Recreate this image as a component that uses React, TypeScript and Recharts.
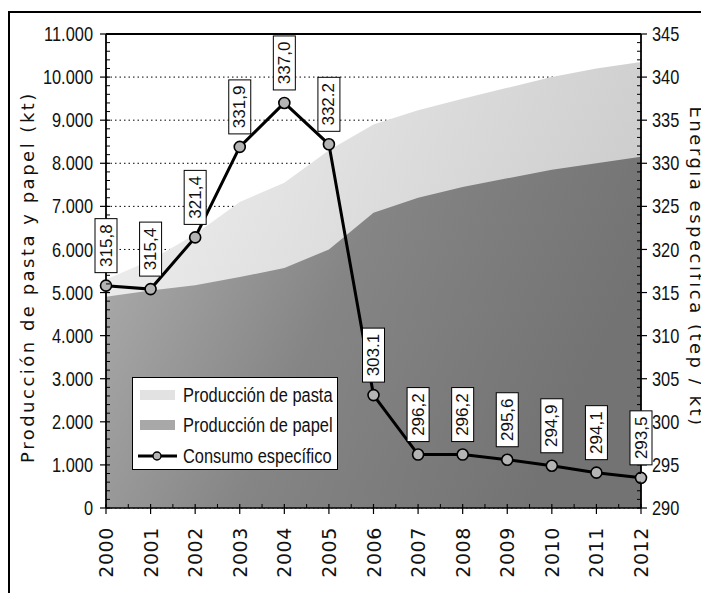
import React from "react";
import {
  ComposedChart,
  Area,
  Line,
  XAxis,
  YAxis,
  CartesianGrid,
  LabelList,
  Legend,
  ReferenceLine,
} from "recharts";

const years = [2000, 2001, 2002, 2003, 2004, 2005, 2006, 2007, 2008, 2009, 2010, 2011, 2012];
const pasta = [5300, 5750, 6350, 7100, 7550, 8300, 8900, 9230, 9500, 9750, 10000, 10200, 10350];
const papel = [4900, 5050, 5170, 5360, 5570, 6000, 6850, 7200, 7450, 7650, 7850, 8000, 8150];
const consumo = [315.8, 315.4, 321.4, 331.9, 337.0, 332.2, 303.1, 296.2, 296.2, 295.6, 294.9, 294.1, 293.5];
const consumoLabels = ["315,8", "315,4", "321,4", "331,9", "337,0", "332.2", "303.1", "296,2", "296,2", "295,6", "294,9", "294,1", "293,5"];

const leftTicks = [0, 1000, 2000, 3000, 4000, 5000, 6000, 7000, 8000, 9000, 10000, 11000];
const leftTickLabels = ["0", "1.000", "2.000", "3.000", "4.000", "5.000", "6.000", "7.000", "8.000", "9.000", "10.000", "11.000"];
const rightTicks = [290, 295, 300, 305, 310, 315, 320, 325, 330, 335, 340, 345];
const leftAllTicks = Array.from({ length: 56 }, (_, i) => i * 200);
const rightAllTicks = Array.from({ length: 56 }, (_, i) => 290 + i);
const xAllTicks = Array.from({ length: 25 }, (_, i) => 2000 + i * 0.5);

const seriesNames = ["Producción de pasta", "Producción de papel", "Consumo específico"];
const leftTitle = "Producción de pasta y papel (kt)";
const rightTitle = "Energía específica (tep / kt)";

const data = years.map((year, i) => ({
  year,
  pasta: pasta[i],
  papel: papel[i],
  consumo: consumo[i],
  label: consumoLabels[i],
}));

const SANS = '"Liberation Sans", Arial, sans-serif';
const WIDE = '"DejaVu Sans", Verdana, sans-serif';
const SQUEEZE = 0.82;

const LeftTick = (props: any) => {
  const { x, y, payload } = props;
  const idx = leftTicks.indexOf(payload.value);
  if (idx < 0) {
    return <line x1={x} x2={x + 4} y1={y} y2={y} stroke="#000" strokeWidth={1} />;
  }
  return (
    <g>
      <line x1={x - 6} x2={x + 4} y1={y} y2={y} stroke="#000" strokeWidth={1.2} />
      <g transform={`translate(${x - 13},${y}) scale(${SQUEEZE},1)`}>
        <text x={0} y={0} textAnchor="end" dominantBaseline="central" fontFamily={SANS} fontSize={20} fill="#111">
          {leftTickLabels[idx]}
        </text>
      </g>
    </g>
  );
};

const RightTick = (props: any) => {
  const { x, y, payload } = props;
  const isMajor = rightTicks.indexOf(payload.value) >= 0;
  if (!isMajor) {
    return <line x1={x - 4} x2={x} y1={y} y2={y} stroke="#000" strokeWidth={1} />;
  }
  return (
    <g>
      <line x1={x - 4} x2={x + 6} y1={y} y2={y} stroke="#000" strokeWidth={1.2} />
      <g transform={`translate(${x + 11},${y}) scale(${SQUEEZE},1)`}>
        <text x={0} y={0} textAnchor="start" dominantBaseline="central" fontFamily={SANS} fontSize={20} fill="#111">
          {payload.value}
        </text>
      </g>
    </g>
  );
};

const XTick = (props: any) => {
  const { x, y, payload } = props;
  const isMajor = years.indexOf(payload.value) >= 0;
  if (!isMajor) {
    return <line x1={x} x2={x} y1={y - 4} y2={y} stroke="#000" strokeWidth={1} />;
  }
  return (
    <g>
      <line x1={x} x2={x} y1={y - 4} y2={y + 6} stroke="#000" strokeWidth={1.2} />
      <g transform={`translate(${x},${y})`}>
        <text
          transform="rotate(-90)"
          x={-19}
          y={0}
          textAnchor="end"
          dominantBaseline="central"
          fontFamily={WIDE}
          fontSize={19}
          letterSpacing={0.6}
          fill="#111"
        >
          {payload.value}
        </text>
      </g>
    </g>
  );
};

const PointDot = (props: any) => {
  const { cx, cy, index } = props;
  if (cx == null || cy == null) return <g key={index} />;
  return <circle key={index} cx={cx} cy={cy} r={5.5} fill="#b4b4b4" stroke="#000" strokeWidth={1.6} />;
};

const ValueLabel = (props: any) => {
  const x = props.x ?? props.viewBox?.x;
  const y = props.y ?? props.viewBox?.y;
  const value = props.value;
  const w = 22;
  const h = 54;
  const gap = 13;
  const top = y - gap - h;
  return (
    <g>
      <rect x={x - w / 2} y={top} width={w} height={h} fill="#fff" stroke="#000" strokeWidth={1} />
      <text
        transform={`translate(${x},${top + h / 2}) rotate(-90)`}
        textAnchor="middle"
        dominantBaseline="central"
        fontFamily={SANS}
        fontSize={17}
        fill="#111"
      >
        {value}
      </text>
    </g>
  );
};

const LegendContent = () => (
  <div
    style={{
      width: 206,
      height: 93,
      boxSizing: "border-box",
      border: "1.5px solid #000",
      background: "#fff",
      position: "relative",
      fontFamily: SANS,
      fontSize: 20,
      color: "#111",
    }}
  >
    {seriesNames.map((name, i) => (
      <div
        key={name}
        style={{ position: "absolute", left: 0, top: 1 + i * 30.5, height: 31, width: 206, display: "flex", alignItems: "center" }}
      >
        <svg width={44} height={14} style={{ marginLeft: 4, marginRight: 2, flex: "none" }}>
          {i === 0 && <rect x={3} y={2} width={35} height={10} fill="#e2e2e2" />}
          {i === 1 && <rect x={3} y={2} width={35} height={10} fill="#a8a8a8" />}
          {i === 2 && (
            <g>
              <line x1={1} y1={7} x2={40} y2={7} stroke="#000" strokeWidth={3} />
              <circle cx={20} cy={7} r={4} fill="#b4b4b4" stroke="#000" strokeWidth={1.4} />
            </g>
          )}
        </svg>
        <span
          style={{
            whiteSpace: "nowrap",
            lineHeight: "20px",
            display: "inline-block",
            transform: `scaleX(${SQUEEZE})`,
            transformOrigin: "left center",
          }}
        >
          {name}
        </span>
      </div>
    ))}
  </div>
);

const titleStyle = (cx: number, cy: number, deg: number): React.CSSProperties => ({
  position: "absolute",
  left: cx - 220,
  top: cy - 12,
  width: 440,
  height: 24,
  lineHeight: "24px",
  textAlign: "center",
  transform: `rotate(${deg}deg)`,
  fontFamily: WIDE,
  fontSize: 18,
  letterSpacing: 2.5,
  color: "#111",
  whiteSpace: "nowrap",
});

export default function App() {
  return (
    <div style={{ position: "relative", width: 701, height: 585 }}>
      <div
        style={{
          position: "absolute",
          left: -0.5,
          top: 3,
          width: 702,
          height: 585,
          borderTop: "2.5px solid #000",
          borderLeft: "2.5px solid #000",
          boxSizing: "border-box",
        }}
      />
      <ComposedChart width={701} height={585} data={data} margin={{ top: 26, right: 0, bottom: 0, left: 0 }}>
        <defs>
          <linearGradient id="gPasta" x1="0" y1="0" x2="1" y2="0.4">
            <stop offset="0" stopColor="#f2f2f2" />
            <stop offset="0.45" stopColor="#e0e0e0" />
            <stop offset="1" stopColor="#cbcbcb" />
          </linearGradient>
          <linearGradient id="gPapel" x1="0" y1="0" x2="1" y2="0.3">
            <stop offset="0" stopColor="#b0b0b0" />
            <stop offset="0.5" stopColor="#858585" />
            <stop offset="1" stopColor="#737373" />
          </linearGradient>
        </defs>
        <CartesianGrid
          xAxisId="main"
          yAxisId="zgrid"
          vertical={false}
          stroke="#000"
          strokeDasharray="1.5 3"
          strokeWidth={1}
        />
        <Area
          xAxisId="main"
          yAxisId="left"
          type="linear"
          dataKey="pasta"
          name={seriesNames[0]}
          stroke="none"
          fill="url(#gPasta)"
          fillOpacity={1}
          isAnimationActive={false}
        />
        <Area
          xAxisId="main"
          yAxisId="zgrid"
          type="linear"
          dataKey="papel"
          name={seriesNames[1]}
          stroke="none"
          fill="url(#gPapel)"
          fillOpacity={1}
          isAnimationActive={false}
        />
        <XAxis
          xAxisId="main"
          dataKey="year"
          type="number"
          domain={[2000, 2012]}
          ticks={xAllTicks}
          interval={0}
          height={85}
          tickSize={0}
          tickMargin={0}
          tick={<XTick />}
          tickLine={false}
          axisLine={{ stroke: "#000", strokeWidth: 1.5 }}
        />
        <YAxis
          yAxisId="left"
          type="number"
          domain={[0, 11000]}
          ticks={leftAllTicks}
          interval={0}
          width={98}
          tickSize={0}
          tickMargin={0}
          tick={<LeftTick />}
          tickLine={false}
          axisLine={{ stroke: "#000", strokeWidth: 1.8 }}
        />
        <YAxis
          yAxisId="zgrid"
          type="number"
          domain={[0, 11000]}
          ticks={leftTicks}
          interval={0}
          width={0}
          hide
        />
        <YAxis
          yAxisId="right"
          orientation="right"
          type="number"
          domain={[290, 345]}
          ticks={rightAllTicks}
          interval={0}
          width={68}
          tickSize={0}
          tickMargin={0}
          tick={<RightTick />}
          tickLine={false}
          axisLine={{ stroke: "#000", strokeWidth: 1.8 }}
        />
        <ReferenceLine xAxisId="main" yAxisId="left" y={11000} stroke="#000" strokeWidth={2} />
        <Line
          xAxisId="main"
          yAxisId="right"
          type="linear"
          dataKey="consumo"
          name={seriesNames[2]}
          stroke="#000"
          strokeWidth={3}
          dot={<PointDot />}
          activeDot={false}
          isAnimationActive={false}
        >
          <LabelList dataKey="label" content={<ValueLabel />} />
        </Line>
        <Legend
          layout="vertical"
          align="center"
          verticalAlign="middle"
          content={<LegendContent />}
          wrapperStyle={{ position: "absolute", left: 124, top: 369, width: 206, height: 93 }}
        />
      </ComposedChart>
      <div style={titleStyle(20, 269, -90)}>{leftTitle}</div>
      <div style={titleStyle(688, 259, 90)}>{rightTitle}</div>
    </div>
  );
}
